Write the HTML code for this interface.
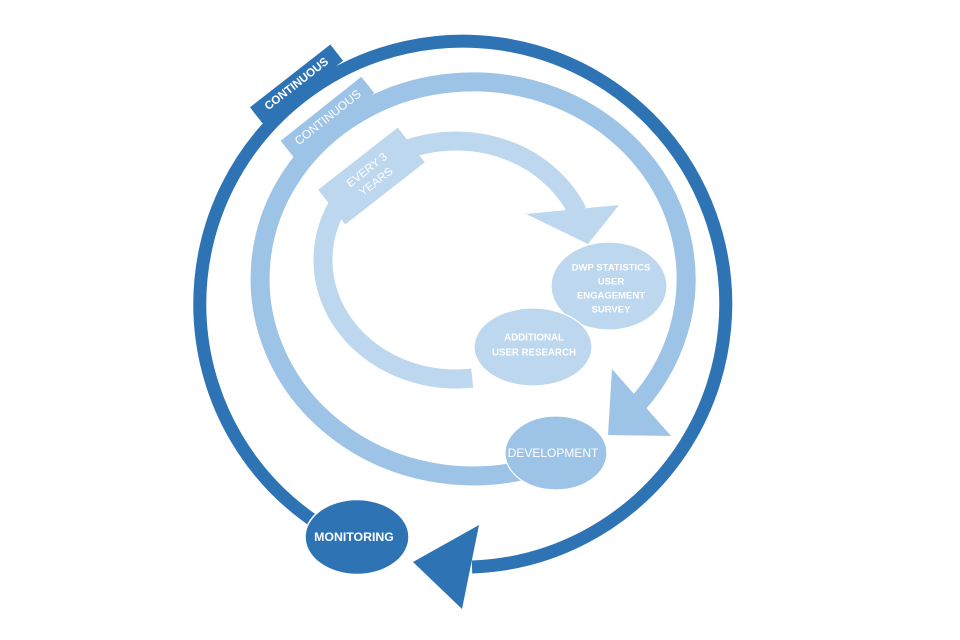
<!DOCTYPE html>
<html>
<head>
<meta charset="utf-8">
<style>
  html, body { margin:0; padding:0; background:#ffffff; }
  svg { display:block; }
  text { font-family: "Liberation Sans", "DejaVu Sans", sans-serif; fill:#ffffff; }
</style>
</head>
<body>
<svg width="960" height="640" viewBox="0 0 960 640" xmlns="http://www.w3.org/2000/svg">
  <rect x="0" y="0" width="960" height="640" fill="#ffffff"/>

  <!-- Outer arc (dark) -->
  <path d="M 315.4 522 A 263 263 0 1 1 472 567" fill="none" stroke="#2E74B5" stroke-width="13"/>
  <polygon points="413,562 479,525 462,609" fill="#2E74B5"/>

  <!-- Middle arc -->
  <path d="M 524.5 470.1 A 213 197 0 1 1 633.8 408.2" fill="none" stroke="#9DC3E6" stroke-width="19"/>
  <polygon points="612,369 671,436 608,435" fill="#9DC3E6"/>

  <!-- Inner arc -->
  <path d="M 472.2 378.1 A 133 119 0 1 1 577.5 211.6" fill="none" stroke="#BDD7EE" stroke-width="19"/>
  <polygon points="526,214 619,205 588,244" fill="#BDD7EE"/>

  <!-- Labels on arcs -->
  <g transform="translate(296.5,84) rotate(-38)">
    <rect x="-51" y="-10.3" width="102" height="20.6" fill="#2E74B5"/>
    <text x="0" y="0.5" font-size="11.5" font-weight="bold" text-anchor="middle" dominant-baseline="central">CONTINUOUS</text>
  </g>
  <g transform="translate(327.5,117) rotate(-38.5)">
    <rect x="-51.5" y="-10.5" width="103" height="21" fill="#9DC3E6"/>
    <text x="0" y="0.5" font-size="12" text-anchor="middle" dominant-baseline="central">CONTINUOUS</text>
  </g>
  <g transform="translate(371.5,176) rotate(-38)">
    <rect x="-50.5" y="-22" width="101" height="44" fill="#BDD7EE"/>
    <text x="0" y="-7" font-size="11.5" text-anchor="middle" dominant-baseline="central">EVERY 3</text>
    <text x="0" y="8" font-size="11.5" text-anchor="middle" dominant-baseline="central">YEARS</text>
  </g>

  <!-- Ellipses -->
  <ellipse cx="609" cy="286" rx="58" ry="44" fill="#BDD7EE" stroke="#ffffff" stroke-width="1.2"/>
  <text x="611" y="268" font-size="9.5" font-weight="bold" text-anchor="middle" dominant-baseline="central">DWP STATISTICS</text>
  <text x="611" y="282" font-size="9.5" font-weight="bold" text-anchor="middle" dominant-baseline="central">USER</text>
  <text x="611" y="296" font-size="9.5" font-weight="bold" text-anchor="middle" dominant-baseline="central">ENGAGEMENT</text>
  <text x="611" y="310" font-size="9.5" font-weight="bold" text-anchor="middle" dominant-baseline="central">SURVEY</text>

  <ellipse cx="533" cy="347" rx="59" ry="39" fill="#BDD7EE" stroke="#ffffff" stroke-width="1.2"/>
  <text x="534" y="338" font-size="9.7" font-weight="bold" text-anchor="middle" dominant-baseline="central">ADDITIONAL</text>
  <text x="534" y="353" font-size="9.7" font-weight="bold" text-anchor="middle" dominant-baseline="central">USER RESEARCH</text>

  <ellipse cx="556" cy="453" rx="51" ry="37" fill="#9DC3E6" stroke="#ffffff" stroke-width="1.2"/>
  <text x="553" y="453" font-size="12" text-anchor="middle" dominant-baseline="central">DEVELOPMENT</text>

  <ellipse cx="357" cy="537" rx="52" ry="37.5" fill="#2E74B5" stroke="#ffffff" stroke-width="1.5"/>
  <text x="354" y="537" font-size="12.3" font-weight="bold" text-anchor="middle" dominant-baseline="central">MONITORING</text>
</svg>
</body>
</html>
